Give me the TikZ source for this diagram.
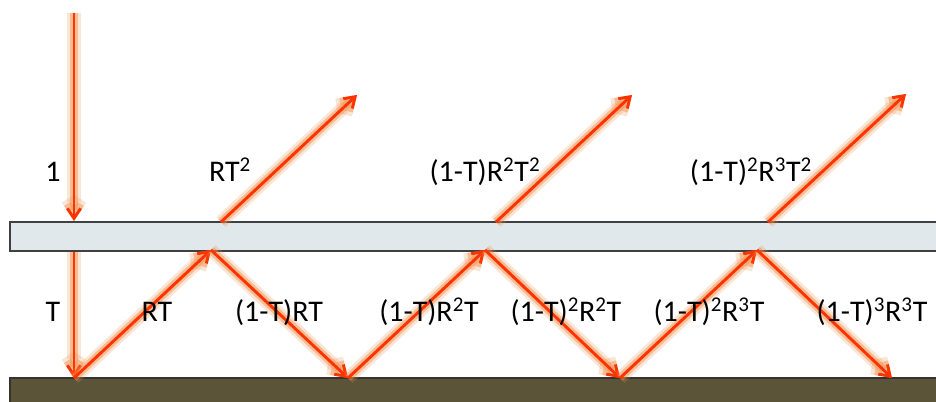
\documentclass[tikz,border=0pt]{standalone}
\usepackage{fontspec}
\setmainfont{Carlito}
\usetikzlibrary{arrows.meta}
\definecolor{raycolor}{RGB}{255,51,0}
\definecolor{glowcolor}{RGB}{238,140,70}
\definecolor{slabfill}{RGB}{225,232,236}
\definecolor{groundfill}{RGB}{92,84,56}
\newcommand{\pw}[1]{\textsuperscript{#1}}
\tikzset{
  rayarrow/.style={
    -{Straight Barb[length=7.5pt,width=10pt]},
    draw=raycolor,
    line width=2.2pt,
    preaction={draw=glowcolor,line width=10pt,opacity=0.22},
    preaction={draw=glowcolor,line width=6pt,opacity=0.45}
  },
  slabbox/.style={
    draw=black!75,
    fill=slabfill,
    line width=0.8pt
  },
  groundbox/.style={
    draw=black!80,
    fill=groundfill,
    line width=0.8pt
  },
  beamlabel/.style={
    anchor=base,
    inner sep=0pt,
    text=black,
    font=\fontsize{22.5}{27}\selectfont
  }
}

\begin{document}
\begin{tikzpicture}[x=0.75pt,y=-0.75pt]
  \useasboundingbox (0,0) rectangle (936,402);
  \clip (0,0) rectangle (936,402);

  % glass slab and the ground below it
  \draw[slabbox] (10,222) rectangle (950,251);
  \draw[groundbox] (10,378) rectangle (950,410);

  % points where the rays hit the slab and the ground
  \coordinate (source) at (74,13);
  \coordinate (entry) at (74,221);
  \coordinate (exit) at (74,252);
  \coordinate (ground0) at (74,378);
  \coordinate (slab1) at (211,250);
  \coordinate (ground1) at (348,378);
  \coordinate (slab2) at (485,250);
  \coordinate (ground2) at (620,378);
  \coordinate (slab3) at (757,250);
  \coordinate (ground3) at (892,378);
  \coordinate (leave1) at (221,222);
  \coordinate (leave2) at (496,222);
  \coordinate (leave3) at (768,222);
  \coordinate (out1) at (357,95);
  \coordinate (out2) at (632,95);
  \coordinate (out3) at (906,94);

  \draw[rayarrow] (source) -- (entry);
  \draw[rayarrow] (exit) -- (ground0);
  \draw[rayarrow] (ground0) -- (slab1);
  \draw[rayarrow] (slab1) -- (ground1);
  \draw[rayarrow] (ground1) -- (slab2);
  \draw[rayarrow] (slab2) -- (ground2);
  \draw[rayarrow] (ground2) -- (slab3);
  \draw[rayarrow] (slab3) -- (ground3);
  \draw[rayarrow] (leave1) -- (out1);
  \draw[rayarrow] (leave2) -- (out2);
  \draw[rayarrow] (leave3) -- (out3);

  % intensities above the slab
  \node[beamlabel] (lblone) at (53,182) {1};
  \node[beamlabel] (lblout1) at (230,182) {RT\pw{2}};
  \node[beamlabel] (lblout2) at (485,182) {(1-T)R\pw{2}T\pw{2}};
  \node[beamlabel] (lblout3) at (751,182) {(1-T)\pw{2}R\pw{3}T\pw{2}};

  % intensities between slab and ground
  \node[beamlabel] (lblt) at (53,322) {T};
  \node[beamlabel] (lblrt) at (157,322) {RT};
  \node[beamlabel] (lbldown1) at (279,322) {(1-T)RT};
  \node[beamlabel] (lblup2) at (429,322) {(1-T)R\pw{2}T};
  \node[beamlabel] (lbldown2) at (566,322) {(1-T)\pw{2}R\pw{2}T};
  \node[beamlabel] (lblup3) at (709,322) {(1-T)\pw{2}R\pw{3}T};
  \node[beamlabel] (lbldown3) at (872,322) {(1-T)\pw{3}R\pw{3}T};
\end{tikzpicture}
\end{document}
